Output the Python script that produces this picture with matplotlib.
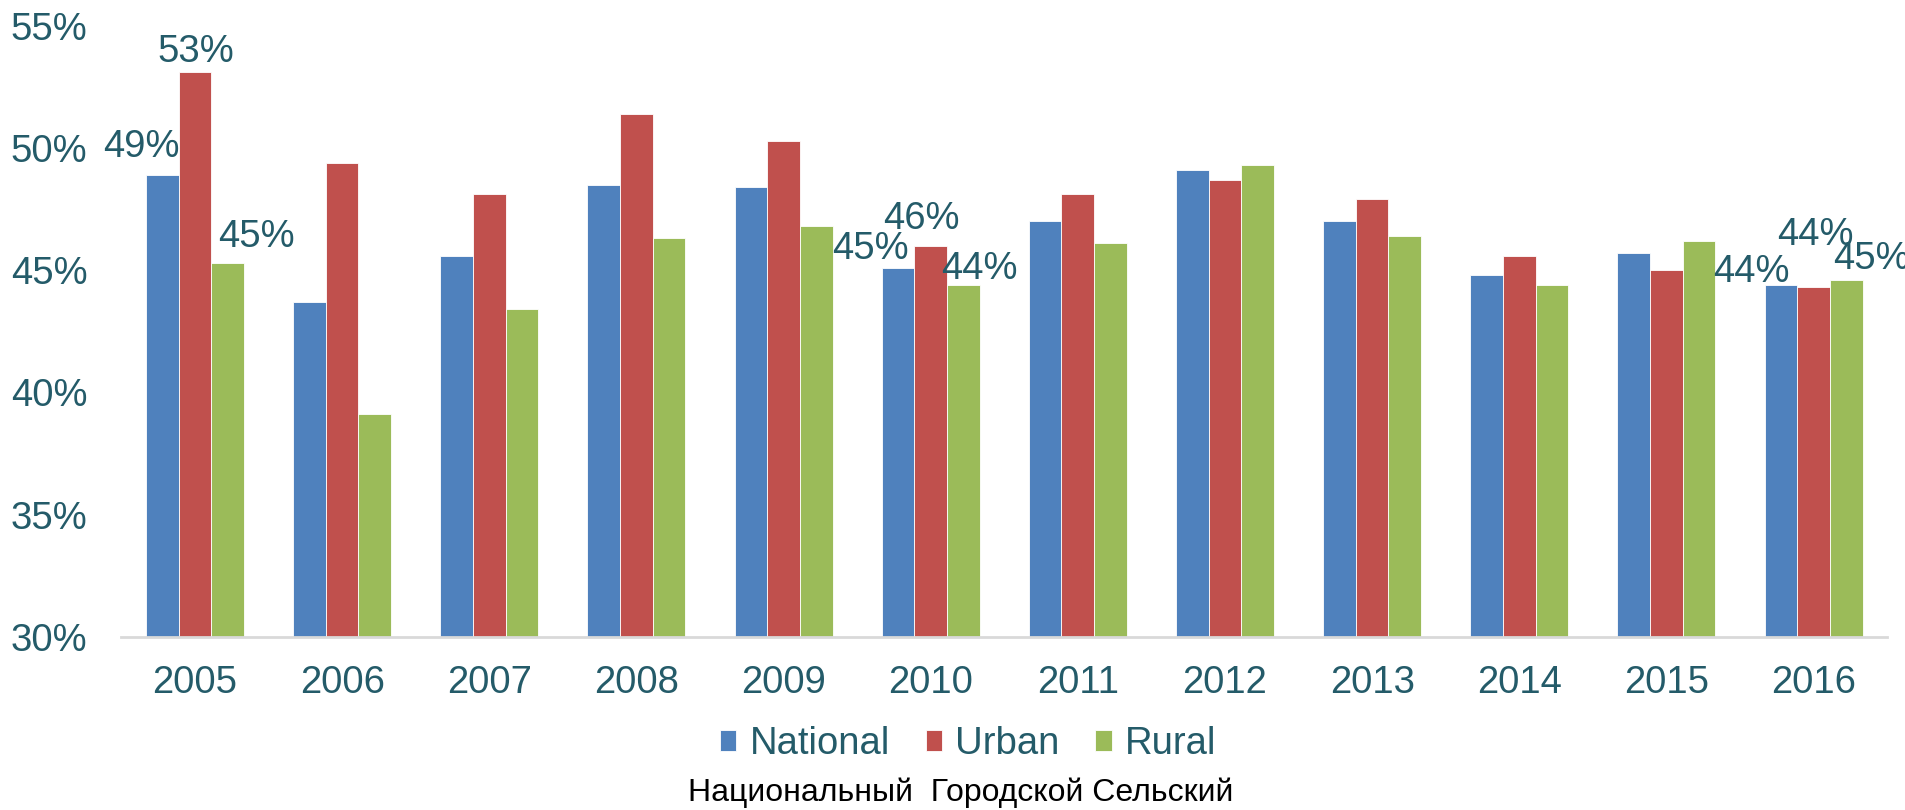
import matplotlib.pyplot as plt
import numpy as np

anios = ["2005", "2006", "2007", "2008", "2009", "2010",
         "2011", "2012", "2013", "2014", "2015", "2016"]
nacional = [48.9, 43.7, 45.6, 48.5, 48.4, 45.1, 47.0, 49.1, 47.0, 44.8, 45.7, 44.4]
urbano = [53.1, 49.4, 48.1, 51.4, 50.3, 46.0, 48.1, 48.7, 47.9, 45.6, 45.0, 44.3]
rural = [45.3, 39.1, 43.4, 46.3, 46.8, 44.4, 46.1, 49.3, 46.4, 44.4, 46.2, 44.6]
series = ["National", "Urban", "Rural"]
texto_ru = "Национальный  Городской Сельский"

# etiquetas de datos: (serie, año) -> desplazamiento en pixeles del centro del texto
etiquetas = {
    (0, 0): (-21, 32), (1, 0): (1, 24), (2, 0): (29, 30),
    (0, 5): (-28, 22), (1, 5): (-9, 30), (2, 5): (16, 20),
    (0, 11): (-29, 17), (1, 11): (2, 56), (2, 11): (25, 25),
}

colores = ["#4F81BD", "#C0504D", "#9BBB59"]
texto_color = "#245B69"
fuente = "Liberation Sans"
tam = 27.5

fig = plt.figure(figsize=(19.06, 8.10), dpi=100)
ax = fig.add_axes([0.0637, 0.2136, 0.9264, 0.7546])

x = np.arange(len(anios))
w = 2 / 9
datos = [nacional, urbano, rural]
for i, valores in enumerate(datos):
    ax.bar(x + (i - 1) * w, valores, width=w, color=colores[i],
           edgecolor="white", linewidth=0.6, label=series[i], zorder=2)

# media altura de mayusculas en pixeles para centrar el texto
medio = 0.716 * tam * 100 / 72 / 2
for (s, k), (dx, dy) in etiquetas.items():
    v = datos[s][k]
    ax.annotate(f"{round(v)}%", xy=(x[k] + (s - 1) * w, v),
                xytext=(dx, dy - medio), textcoords="offset pixels",
                ha="center", va="baseline", fontsize=tam, family=fuente,
                color=texto_color, annotation_clip=False)

ax.set_xlim(-0.5, len(anios) - 0.5)
ax.set_ylim(30, 55)
ax.set_xticks(x)
ax.set_xticklabels(anios, fontsize=tam, family=fuente, color=texto_color)
ax.set_yticks(range(30, 56, 5))
ax.set_yticklabels([f"{t}%" for t in range(30, 56, 5)], fontsize=tam,
                   family=fuente, color=texto_color)
ax.tick_params(axis="both", length=0)
ax.tick_params(axis="y", pad=24.5)
ax.tick_params(axis="x", pad=20)

for lado in ["top", "right", "left"]:
    ax.spines[lado].set_visible(False)
ax.spines["bottom"].set_color("#D9D9D9")
ax.spines["bottom"].set_linewidth(2)
ax.spines["bottom"].set_zorder(3)

leg = fig.legend(loc="center", bbox_to_anchor=(0.508, 0.0815), ncol=3,
                 frameon=False, handlelength=0.43, handleheight=0.5,
                 handletextpad=0.35, columnspacing=0.93, borderpad=0,
                 prop={"family": fuente, "size": tam})
for t in leg.get_texts():
    t.set_color(texto_color)

fig.text(0.504, 0.0215, texto_ru, ha="center", va="center",
         fontsize=23, family=fuente, color="black")

plt.savefig("out.png", dpi=100)
plt.close()
